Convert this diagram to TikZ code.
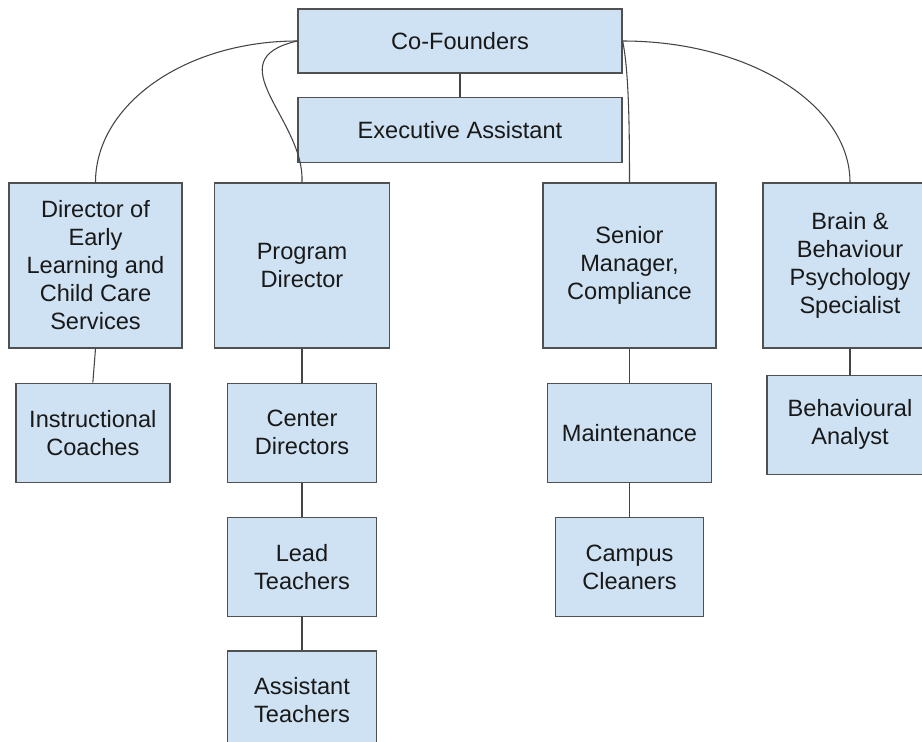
\documentclass[tikz,border=0pt]{standalone}
\usepackage{fontspec}
\setmainfont{Liberation Sans}
\usepackage{tikz}
\usetikzlibrary{positioning}
\definecolor{cajaRelleno}{HTML}{CFE2F3}
\definecolor{cajaBorde}{HTML}{505050}
\definecolor{lineaGris}{HTML}{444444}

\begin{document}
\begin{tikzpicture}[x=0.75pt, y=-0.75pt,
        font=\fontsize{17.7pt}{21pt}\selectfont,
        box/.style={draw=cajaBorde, fill=cajaRelleno, line width=1pt,
            align=center, inner sep=2pt, text=black!90},
        ln/.style={draw=lineaGris, line width=0.8pt}]
    \useasboundingbox (0,0) rectangle (922,742);
    \clip (0,0) rectangle (922,742);

    % top of the chart
    \node[box, minimum width=243pt, minimum height=48pt] (founders) at (460,41) {Co-Founders};
    \node[box, minimum width=243pt, minimum height=48.75pt, below=17.25pt of founders] (exec) {Executive Assistant};

    % second row
    \node[box, minimum width=129.75pt, minimum height=123.75pt] (early) at (95.5,265.5)
        {Director of\\Early\\Learning and\\Child Care\\Services};
    \node[box, minimum width=131.25pt, minimum height=123.75pt] (prog) at (302,265.5) {Program\\Director};
    \node[box, minimum width=129.75pt, minimum height=123.75pt] (senior) at (629.5,265.5)
        {Senior\\Manager,\\Compliance};
    \node[box, minimum width=130.5pt, minimum height=123.75pt] (brain) at (850,265.5)
        {Brain \&\\Behaviour\\Psychology\\Specialist};

    % teams below each lead
    \node[box, minimum width=115.5pt, minimum height=74.25pt, below=25.5pt of early, xshift=-2pt] (instr) {Instructional\\Coaches};
    \node[box, minimum width=111.75pt, minimum height=74.25pt, below=25.5pt of prog] (center) {Center\\Directors};
    \node[box, minimum width=111.75pt, minimum height=74.25pt, below=25.5pt of center] (lead) {Lead\\Teachers};
    \node[box, minimum width=111.75pt, minimum height=74.25pt, below=24.75pt of lead] (assist) {Assistant\\Teachers};
    \node[box, minimum width=123pt, minimum height=74.25pt, below=25.5pt of senior] (maint) {Maintenance};
    \node[box, minimum width=111pt, minimum height=74.25pt, below=25.5pt of maint] (campus) {Campus\\Cleaners};
    \node[box, minimum width=124.5pt, minimum height=74.25pt, below=19.5pt of brain] (analyst) {Behavioural\\Analyst};

    % connectors
    \draw[ln] (founders) -- (exec);
    \draw[ln] (founders.west) .. controls +(-112,0) and +(0,-78) .. (early.north);
    \draw[ln] (founders.west) .. controls +(-83,19) and +(3,-63) .. (prog.north);
    \draw[ln] (founders.east) .. controls +(6,30) and +(0,-60) .. (senior.north);
    \draw[ln] (founders.east) .. controls +(126,0) and +(0,-78) .. (brain.north);
    \draw[ln] (early.south) -- (instr.north);
    \draw[ln] (prog) -- (center); \draw[ln] (center) -- (lead); \draw[ln] (lead) -- (assist);
    \draw[ln] (senior) -- (maint); \draw[ln] (maint) -- (campus);
    \draw[ln] (brain) -- (analyst);
\end{tikzpicture}
\end{document}
